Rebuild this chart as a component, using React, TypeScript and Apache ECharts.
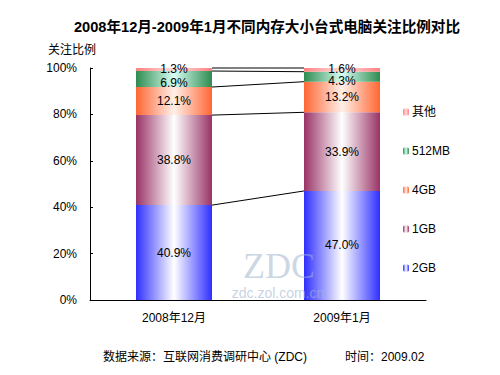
import React, { useEffect, useRef } from "react";
import * as echarts from "echarts";

const categories = ["2008年12月", "2009年1月"];
const seriesNames = ["2GB", "1GB", "4GB", "512MB", "其他"];
const values2GB = [40.9, 47.0];
const values1GB = [38.8, 33.9];
const values4GB = [12.1, 13.2];
const values512MB = [6.9, 4.3];
const valuesOther = [1.3, 1.6];
const yTicks = [0, 20, 40, 60, 80, 100];

const edgeColors = ["#2f2fff", "#993366", "#ff6633", "#2e8b4f", "#ff8080"];
const centerColors = ["#ffffff", "#ffffff", "#fff0ea", "#d8fff4", "#ffe0e0"];
const labelOffsets = [[0, 0], [0, 0], [0, 0], [0, 4], [0, -1]];

const FONT = 'Arial, "Liberation Sans", "Noto Sans CJK SC", sans-serif';
const BAR_WIDTH = 76;

export default function App() {
  const ref = useRef<HTMLDivElement>(null);
  useEffect(() => {
    if (!ref.current) return;
    const chart = echarts.init(ref.current, undefined, { renderer: "svg" });
    const allValues = [values2GB, values1GB, values4GB, values512MB, valuesOther];
    const grad = (i: number) =>
      new echarts.graphic.LinearGradient(0, 0, 1, 0, [
        { offset: 0, color: edgeColors[i] },
        { offset: 0.5, color: centerColors[i] },
        { offset: 1, color: edgeColors[i] },
      ]);
    // cumulative tops for connector lines
    const cum: number[][] = [];
    let a = 0,
      b = 0;
    allValues.forEach((vals) => {
      a += vals[0];
      b += vals[1];
      cum.push([0, Math.min(a, 100), Math.min(b, 100)]);
    });

    const barSeries = seriesNames.map((name, i) => ({
      name,
      type: "bar",
      stack: "total",
      barWidth: BAR_WIDTH,
      data: allValues[i],
      itemStyle: { color: grad(i) },
      label: {
        show: true,
        position: "inside",
        offset: labelOffsets[i],
        formatter: (p: any) => p.value.toFixed(1) + "%",
        color: "#000",
        fontSize: 12,
        fontFamily: FONT,
      },
      emphasis: { disabled: true },
    }));

    chart.setOption({
      animation: false,
      grid: { left: 90, right: 74, top: 68, bottom: 75 },
      legend: {
        orient: "vertical",
        left: 398,
        top: 101,
        itemGap: 27,
        itemWidth: 6,
        itemHeight: 7,
        itemStyle: { borderWidth: 0 },
        data: [...seriesNames].reverse(),
        textStyle: { fontSize: 12, fontFamily: FONT, color: "#000", padding: [0, 0, 0, -2] },
        selectedMode: false,
      },
      xAxis: {
        type: "category",
        data: categories,
        axisLine: { lineStyle: { color: "#000", width: 1 } },
        axisTick: { inside: true, length: 4, lineStyle: { color: "#000" } },
        axisLabel: { margin: 12, fontSize: 12, fontFamily: FONT, color: "#000" },
      },
      yAxis: {
        type: "value",
        min: yTicks[0],
        max: yTicks[yTicks.length - 1],
        interval: 20,
        axisLine: { show: true, lineStyle: { color: "#000", width: 1 } },
        axisTick: { show: true, inside: true, length: 3, lineStyle: { color: "#000" } },
        splitLine: { show: false },
        axisLabel: { formatter: "{value}%", margin: 13, fontSize: 12, fontFamily: FONT, color: "#000" },
      },
      series: [
        ...barSeries,
        {
          type: "custom",
          name: "connectors",
          data: cum,
          encode: { x: 0, y: 1 },
          z: 3,
          silent: true,
          renderItem: (params: any, api: any) => {
            const p1 = api.coord([0, api.value(1)]);
            const p2 = api.coord([1, api.value(2)]);
            return {
              type: "line",
              shape: { x1: p1[0] + BAR_WIDTH / 2, y1: p1[1], x2: p2[0] - BAR_WIDTH / 2, y2: p2[1] },
              style: { stroke: "#000", lineWidth: 1 },
            };
          },
        },
      ],
      graphic: [
        {
          type: "text",
          x: 267,
          y: 27,
          style: {
            text: "2008年12月-2009年1月不同内存大小台式电脑关注比例对比",
            font: 'bold 14.6px Arial, "Noto Sans CJK SC", sans-serif',
            fill: "#000",
            textAlign: "center",
            textVerticalAlign: "middle",
          },
        },
        {
          type: "text",
          x: 48,
          y: 48,
          style: {
            text: "关注比例",
            font: '12px "Noto Sans CJK SC", sans-serif',
            fill: "#000",
            textAlign: "left",
            textVerticalAlign: "middle",
          },
        },
        {
          type: "text",
          x: 103,
          y: 357,
          style: {
            text: "数据来源：互联网消费调研中心 (ZDC)",
            font: '12px Arial, "Noto Sans CJK SC", sans-serif',
            fill: "#000",
            textAlign: "left",
            textVerticalAlign: "middle",
          },
        },
        {
          type: "text",
          x: 345,
          y: 357,
          style: {
            text: "时间：2009.02",
            font: '12px Arial, "Noto Sans CJK SC", sans-serif',
            fill: "#000",
            textAlign: "left",
            textVerticalAlign: "middle",
          },
        },
        {
          type: "text",
          x: 279,
          y: 266,
          z: 100,
          silent: true,
          style: {
            text: "ZDC",
            font: '36px "Liberation Serif", "Times New Roman", serif',
            fill: "rgba(160,180,205,0.55)",
            textAlign: "center",
            textVerticalAlign: "middle",
          },
        },
        {
          type: "text",
          x: 278,
          y: 293,
          z: 100,
          silent: true,
          style: {
            text: "zdc.zol.com.cn",
            font: '14px Arial, sans-serif',
            fill: "rgba(160,180,205,0.6)",
            textAlign: "center",
            textVerticalAlign: "middle",
          },
        },
      ],
    });
    return () => chart.dispose();
  }, []);
  return (
    <div
      ref={ref}
      style={{ position: "absolute", left: 0, top: 0, width: 500, height: 375, background: "#fff" }}
    />
  );
}
